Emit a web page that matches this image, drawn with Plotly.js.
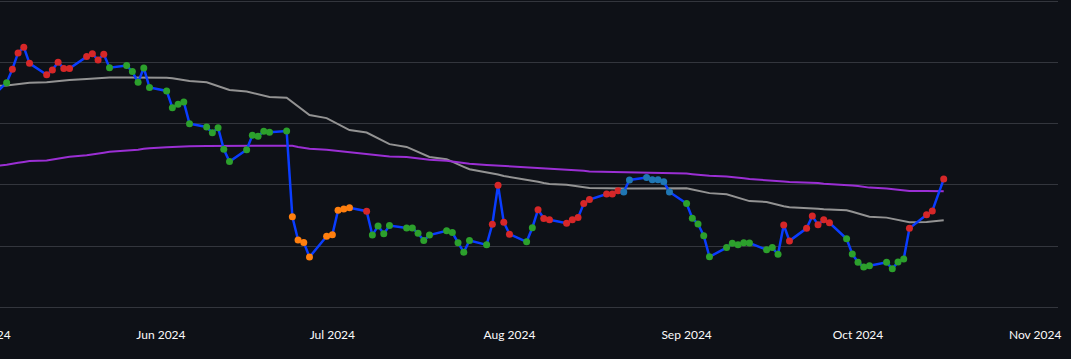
<!DOCTYPE html>
<html>
<head>
<meta charset="utf-8">
<script src="https://cdn.plot.ly/plotly-3.0.1.min.js"></script>
<style>
  html, body { margin: 0; padding: 0; background: #0e1117; overflow: hidden; width: 1071px; height: 359px; }
  #chart { position: absolute; left: -100px; top: 0; width: 1171px; height: 359px; }
</style>
</head>
<body>
<div id="chart"></div>
<script>
// Trading days (Sunday–Thursday sessions)
const dates = [
  "2024-04-28","2024-04-29","2024-04-30","2024-05-01","2024-05-02",
  "2024-05-05","2024-05-06","2024-05-07","2024-05-08","2024-05-09",
  "2024-05-12","2024-05-13","2024-05-14","2024-05-15","2024-05-16",
  "2024-05-19","2024-05-20","2024-05-21","2024-05-22","2024-05-23",
  "2024-05-26","2024-05-27","2024-05-28","2024-05-29","2024-05-30",
  "2024-06-02","2024-06-03","2024-06-04","2024-06-05","2024-06-06",
  "2024-06-09","2024-06-10","2024-06-11","2024-06-12","2024-06-13",
  "2024-06-16","2024-06-17","2024-06-18","2024-06-19","2024-06-20",
  "2024-06-23","2024-06-24","2024-06-25","2024-06-26","2024-06-27",
  "2024-06-30","2024-07-01","2024-07-02","2024-07-03","2024-07-04",
  "2024-07-07","2024-07-08","2024-07-09","2024-07-10","2024-07-11",
  "2024-07-14","2024-07-15","2024-07-16","2024-07-17","2024-07-18",
  "2024-07-21","2024-07-22","2024-07-23","2024-07-24","2024-07-25",
  "2024-07-28","2024-07-29","2024-07-30","2024-07-31","2024-08-01",
  "2024-08-04","2024-08-05","2024-08-06","2024-08-07","2024-08-08",
  "2024-08-11","2024-08-12","2024-08-13","2024-08-14","2024-08-15",
  "2024-08-18","2024-08-19","2024-08-20","2024-08-21","2024-08-22",
  "2024-08-25","2024-08-26","2024-08-27","2024-08-28","2024-08-29",
  "2024-09-01","2024-09-02","2024-09-03","2024-09-04","2024-09-05",
  "2024-09-08","2024-09-09","2024-09-10","2024-09-11","2024-09-12",
  "2024-09-15","2024-09-16","2024-09-17","2024-09-18","2024-09-19",
  "2024-09-22","2024-09-23","2024-09-24","2024-09-25","2024-09-26",
  "2024-09-29","2024-09-30","2024-10-01","2024-10-02","2024-10-03",
  "2024-10-06","2024-10-07","2024-10-08","2024-10-09","2024-10-10",
  "2024-10-13","2024-10-14","2024-10-16"
];

const close = [
  27.00,26.90,27.10,26.85,26.81,
  27.34,27.78,28.31,28.50,27.97,
  27.60,27.75,28.01,27.80,27.80,
  28.19,28.28,28.08,28.27,27.83,
  27.90,27.70,27.35,27.82,27.18,
  27.07,26.52,26.63,26.71,26.00,
  25.89,25.70,25.87,25.16,24.76,
  25.15,25.62,25.59,25.75,25.72,
  25.76,22.96,22.20,22.12,21.64,
  22.32,22.37,23.17,23.21,23.25,
  23.14,22.36,22.66,22.40,22.67,
  22.59,22.59,22.42,22.18,22.36,
  22.50,22.44,22.11,21.80,22.18,
  22.04,22.71,23.99,22.78,22.39,
  22.14,22.60,23.19,22.90,22.86,
  22.75,22.86,22.93,23.39,23.52,
  23.70,23.70,23.81,23.77,24.16,
  24.24,24.17,24.17,24.10,23.77,
  23.39,22.91,22.72,22.34,21.65,
  21.95,22.09,22.04,22.11,22.10,
  21.88,21.95,21.73,22.69,22.17,
  22.58,22.98,22.70,22.86,22.76,
  22.24,21.74,21.47,21.32,21.36,
  21.47,21.26,21.48,21.58,22.58,
  23.02,23.15,24.19
];

const sma50 = [
  27.15,27.17,27.18,27.20,27.21,
  27.25,27.27,27.30,27.32,27.34,
  27.35,27.37,27.40,27.42,27.43,
  27.46,27.47,27.49,27.50,27.51,
  27.51,27.51,27.52,27.52,27.52,
  27.50,27.48,27.45,27.42,27.39,
  27.35,27.29,27.23,27.17,27.10,
  27.05,27.01,26.96,26.92,26.87,
  26.85,26.71,26.56,26.42,26.28,
  26.18,26.08,25.99,25.89,25.79,
  25.71,25.61,25.52,25.42,25.33,
  25.24,25.16,25.08,24.99,24.91,
  24.84,24.75,24.67,24.59,24.51,
  24.42,24.37,24.34,24.29,24.26,
  24.18,24.14,24.10,24.06,24.03,
  24.00,23.97,23.95,23.92,23.90,
  23.89,23.88,23.88,23.88,23.88,
  23.88,23.88,23.88,23.89,23.89,
  23.89,23.85,23.81,23.77,23.73,
  23.69,23.64,23.59,23.53,23.47,
  23.44,23.39,23.34,23.30,23.27,
  23.25,23.24,23.22,23.20,23.19,
  23.17,23.12,23.07,23.02,22.96,
  22.93,22.89,22.85,22.81,22.78,
  22.79,22.80,22.84
];

const sma200 = [
  24.54,24.55,24.57,24.58,24.60,
  24.66,24.68,24.72,24.75,24.78,
  24.80,24.83,24.86,24.89,24.92,
  24.97,24.99,25.02,25.05,25.08,
  25.11,25.13,25.15,25.18,25.20,
  25.23,25.24,25.24,25.25,25.26,
  25.27,25.27,25.27,25.28,25.28,
  25.28,25.28,25.29,25.29,25.29,
  25.29,25.28,25.24,25.21,25.18,
  25.15,25.13,25.11,25.08,25.07,
  25.02,24.99,24.97,24.95,24.93,
  24.91,24.89,24.87,24.85,24.82,
  24.79,24.76,24.74,24.72,24.69,
  24.65,24.64,24.62,24.61,24.59,
  24.58,24.56,24.55,24.54,24.52,
  24.50,24.48,24.47,24.46,24.44,
  24.43,24.42,24.41,24.41,24.40,
  24.39,24.39,24.38,24.38,24.37,
  24.37,24.35,24.33,24.32,24.30,
  24.27,24.26,24.24,24.22,24.19,
  24.16,24.14,24.13,24.11,24.09,
  24.08,24.07,24.06,24.04,24.03,
  24.01,23.98,23.96,23.93,23.91,
  23.88,23.86,23.84,23.82,23.80,
  23.80,23.79,23.79
];

// Signal per session: U = up (red), D = down (green), W = weak (orange), N = neutral (blue)
const signal = [
  "D","D","D","D","D",
  "D","U","U","U","U",
  "U","U","U","U","U",
  "U","U","U","U","D",
  "D","D","D","D","D",
  "D","D","D","D","D",
  "D","D","D","D","D",
  "D","D","D","D","D",
  "D","W","W","W","W",
  "W","W","W","W","W",
  "U","D","D","D","D",
  "D","D","D","D","D",
  "D","D","D","D","D",
  "D","U","U","U","U",
  "D","D","U","U","U",
  "U","U","U","U","U",
  "U","U","U","N","N",
  "N","N","N","N","N",
  "D","D","D","D","D",
  "D","D","D","D","D",
  "D","D","D","U","U",
  "U","U","U","U","U",
  "D","D","D","D","D",
  "D","D","D","D","U",
  "U","U","U"
];

const signalColors = { U: "#d62728", D: "#2ca02c", W: "#ff7f0e", N: "#1f77b4" };

const traces = [
  { x: dates, y: sma50, type: "scatter", mode: "lines", name: "SMA 50",
    line: { color: "#939393", width: 2 }, hoverinfo: "skip" },
  { x: dates, y: sma200, type: "scatter", mode: "lines", name: "SMA 200",
    line: { color: "#9b2fd4", width: 2 }, hoverinfo: "skip" },
  { x: dates, y: close, type: "scatter", mode: "lines", name: "Close",
    line: { color: "#0a3dff", width: 2.5 } },
  { x: dates, y: close, type: "scatter", mode: "markers", name: "Signal",
    marker: { color: signal.map(s => signalColors[s]), size: 7 } }
];

const layout = {
  paper_bgcolor: "#0e1117",
  plot_bgcolor: "#0e1117",
  showlegend: false,
  margin: { l: 60, r: 13, t: 0, b: 33 },
  font: { family: "Lato, 'Source Sans Pro', sans-serif", size: 12, color: "#fafafa" },
  xaxis: {
    type: "date",
    range: ["2024-04-26 20:00", "2024-11-05 00:00"],
    showgrid: false,
    zeroline: false,
    showline: false,
    dtick: "M1",
    tick0: "2024-05-01",
    tickformat: "%b %Y",
    tickfont: { color: "#fafafa", size: 12 }
  },
  yaxis: {
    range: [19.389, 30.04],
    dtick: 2,
    tick0: 20,
    showgrid: true,
    gridcolor: "#33363d",
    gridwidth: 1,
    zeroline: false,
    showline: false,
    showticklabels: false
  }
};

Plotly.newPlot("chart", traces, layout, { displayModeBar: false, staticPlot: true });
</script>
</body>
</html>
